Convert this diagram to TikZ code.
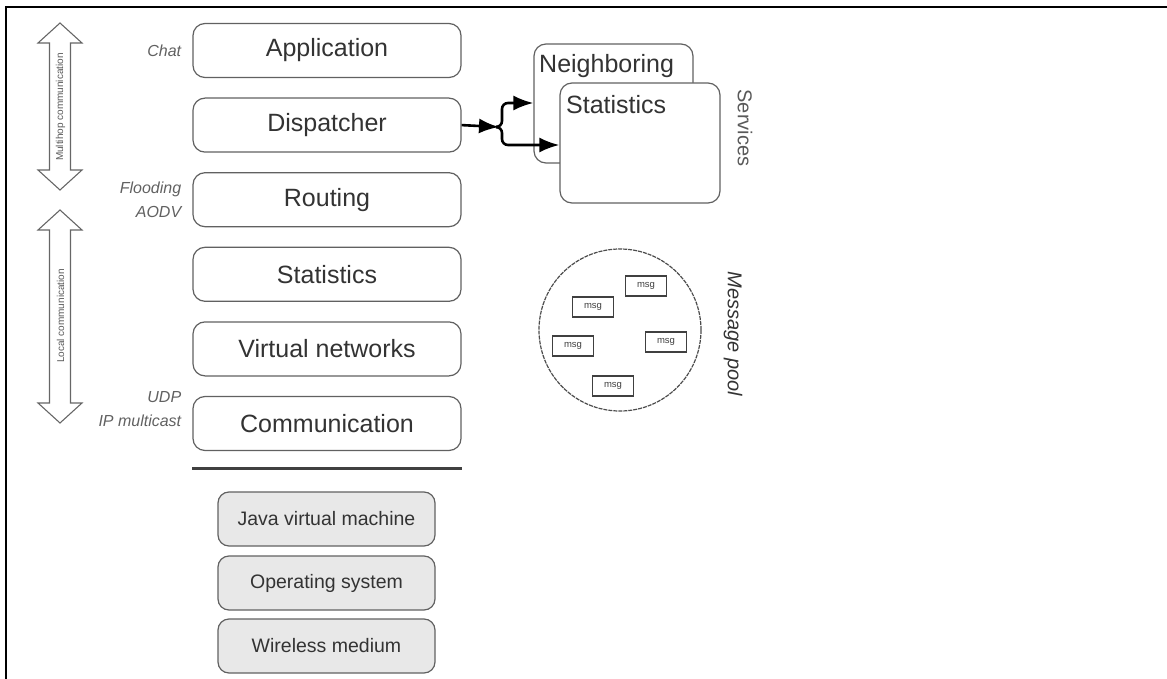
\documentclass[tikz,border=0pt]{standalone}
\usepackage{fontspec}
\setmainfont{Liberation Sans}
\usetikzlibrary{arrows.meta}
\begin{document}
\begin{tikzpicture}[x=1pt,y=-1pt,
  layerbox/.style={draw=black!62, line width=1.2pt, rounded corners=12pt, fill=white,
    text=black!80, font=\fontsize{25}{28}\selectfont, minimum width=268pt,
    minimum height=54pt, inner sep=0pt},
  basebox/.style={draw=black!62, line width=1.2pt, rounded corners=11pt, fill=black!9,
    text=black!80, font=\fontsize{19.5}{22}\selectfont, minimum width=217pt,
    minimum height=54pt, inner sep=0pt},
  svcbox/.style={draw=black!62, line width=1.2pt, rounded corners=12pt, fill=white,
    minimum width=160pt, minimum height=120pt, inner sep=0pt},
  svctext/.style={anchor=west, text=black!80, font=\fontsize{25}{28}\selectfont, inner sep=0pt},
  sidelabel/.style={anchor=east, align=right, text=black!62,
    font=\itshape\fontsize{16}{24}\selectfont, inner sep=0pt},
  dblarrow/.style={draw=black!60, line width=1.1pt, fill=white},
  arrowtext/.style={rotate=90, text=black!65, font=\fontsize{10}{12}\selectfont, inner sep=0pt},
  conn/.style={line width=2.6pt, black},
  tip/.style={-{Latex[length=20pt,width=15pt]}},
  msgbox/.style={draw=black!75, line width=1.5pt, minimum width=41pt, minimum height=20pt,
    inner sep=0pt, font=\fontsize{9.5}{10}\selectfont, text=black!75},
  vlabel/.style={rotate=-90, font=\fontsize{20}{24}\selectfont, inner sep=0pt}
]
\useasboundingbox (0,0) rectangle (1167,679);
% frame
\draw[line width=2.5pt] (6,679) -- (6,7) -- (1167,7);

% layer stack
\node[layerbox] (app)  at (327,50.5)  {Application};
\node[layerbox] (disp) at (327,125.1) {Dispatcher};
\node[layerbox] (rout) at (327,199.7) {Routing};
\node[layerbox] (stat) at (327,274.3) {Statistics};
\node[layerbox] (vnet) at (327,348.9) {Virtual networks};
\node[layerbox] (comm) at (327,423.5) {Communication};
\draw[line width=3pt, black!75] (comm.south west |- 0,468) coordinate (sepA) -- (comm.south east |- 0,468) coordinate (sepB);

% base layers
\node[basebox] (jvm)  at (326.5,519) {Java virtual machine};
\node[basebox] (os)   at (326.5,583) {Operating system};
\node[basebox] (wire) at (326.5,646) {Wireless medium};

% side labels
\node[sidelabel] (lchat) at ([xshift=-11pt]app.west) {Chat};
\node[sidelabel] (lrout) at ([xshift=-11pt]rout.west) {Flooding\\AODV};
\node[sidelabel] (lcomm) at ([xshift=-11pt,yshift=14pt]comm.west) {UDP\\IP multicast};

% double arrows
\draw[dblarrow] (60,23) -- (82,43) -- (70.5,43) -- (70.5,170) -- (82,170) -- (60,190)
  -- (38,170) -- (49.5,170) -- (49.5,43) -- (38,43) -- cycle;
\node[arrowtext] (tmulti) at (60.5,107) {Multihop communication};
\draw[dblarrow] (60,210) -- (82,230) -- (70.5,230) -- (70.5,403) -- (82,403) -- (60,423)
  -- (38,403) -- (49.5,403) -- (49.5,230) -- (38,230) -- cycle;
\node[arrowtext] (tlocal) at (60.5,316) {Local communication};

% services
\node[svcbox, minimum width=159pt, minimum height=119pt] (nb) at (613.5,103.5) {};
\node[svctext] (nbt) at (539,66) {Neighboring};
\node[svcbox] (st) at (640,143) {};
\node[svctext] (stt) at (566,105) {Statistics};
\node[vlabel, text=black!65] (svc) at (745,128) {Services};

% connectors
\coordinate (fk) at (499,127);
\coordinate (ta) at (0,103);
\coordinate (tb) at (0,145);
\draw[conn, tip] (disp.east) -- (fk);
\draw[conn, tip, rounded corners=6pt] (fk) -- (502,127) |- (nb.west |- ta);
\draw[conn, tip, rounded corners=6pt] (fk) -- (502,127) |- (st.west |- tb);

% message pool
\node[circle, draw=black!70, line width=1.2pt, dash pattern=on 4pt off 1pt,
  minimum size=162pt, inner sep=0pt] (pool) at (620,330) {};
\node[msgbox] (m1) at (646,286) {msg};
\node[msgbox] (m2) at (593,307) {msg};
\node[msgbox] (m3) at (573,346) {msg};
\node[msgbox] (m4) at (666,342) {msg};
\node[msgbox] (m5) at (613,386) {msg};
\node[vlabel, text=black!80, font=\itshape\fontsize{20}{24}\selectfont] (pl) at (733,334) {Message pool};
\end{tikzpicture}
\end{document}
